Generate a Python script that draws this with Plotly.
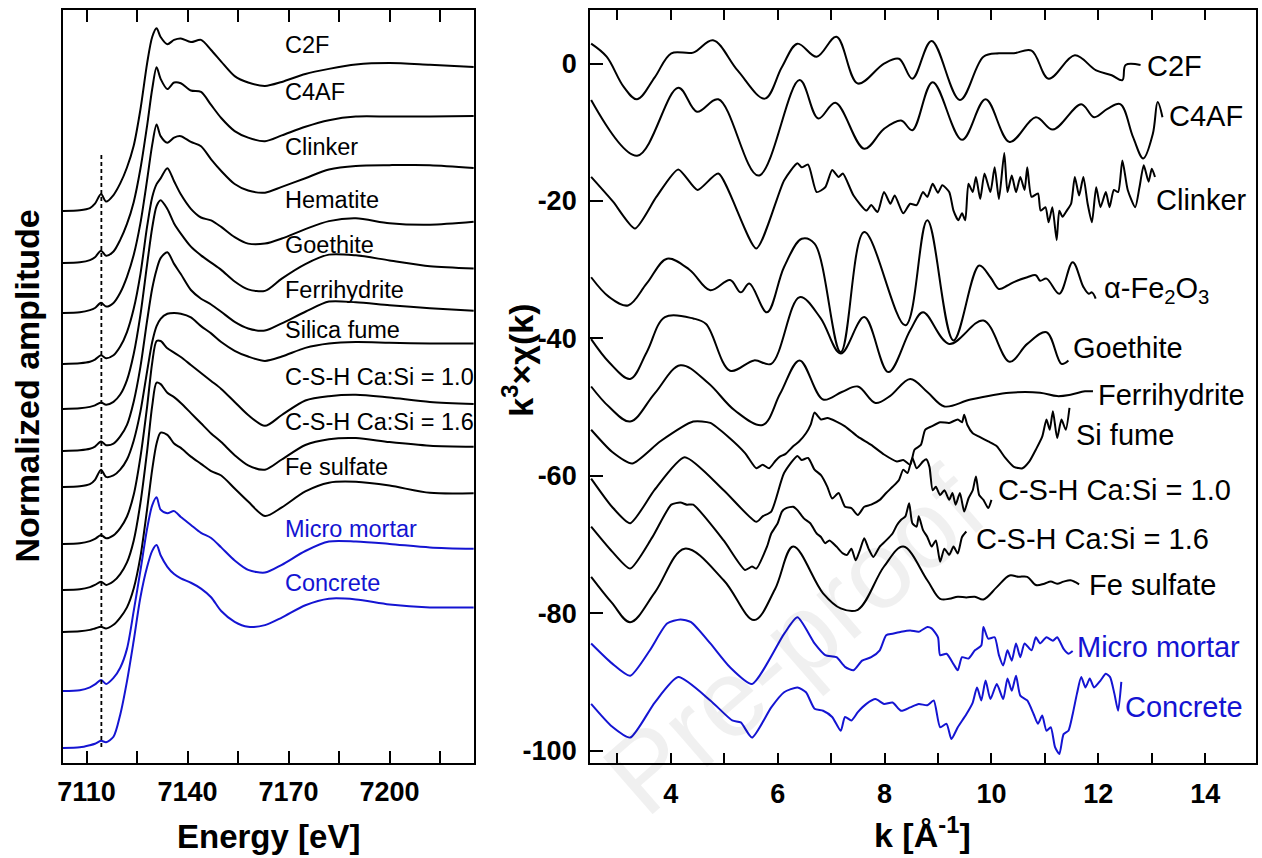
import plotly.graph_objects as go

FONT = "Liberation Sans, Arial, sans-serif"

# ---------------- Left panel: XANES (normalized amplitude vs energy) ----------------
energy_eV = [7103, 7108, 7111, 7112.5, 7114.3, 7115.8, 7118, 7120, 7122, 7124, 7126, 7128,
             7129.5, 7130.8, 7132, 7134, 7136, 7138, 7141, 7144, 7147, 7150, 7154, 7158,
             7163, 7168, 7175, 7182, 7190, 7200, 7212, 7225]

xanes_names = ["C2F", "C4AF", "Clinker", "Hematite", "Goethite", "Ferrihydrite", "Silica fume",
               "C-S-H Ca:Si = 1.0", "C-S-H Ca:Si = 1.6", "Fe sulfate", "Micro mortar", "Concrete"]

mu_C2F = [0, 0.005, 0.02, 0.05, 0.117, 0.065, 0.11, 0.19, 0.30, 0.45, 0.70, 1.02, 1.20, 1.26, 1.20, 1.15,
          1.18, 1.19, 1.165, 1.18, 1.11, 1.03, 0.93, 0.886, 0.862, 0.89, 0.945, 0.98, 1.01, 1.02, 1.008, 0.993]
mu_C4AF = [0, 0.005, 0.02, 0.04, 0.085, 0.05, 0.08, 0.16, 0.27, 0.42, 0.65, 0.95, 1.20, 1.35, 1.27, 1.20,
           1.245, 1.24, 1.19, 1.18, 1.09, 1.0, 0.91, 0.865, 0.84, 0.88, 0.94, 0.985, 1.01, 1.01, 1.01, 1.014]
mu_Clinker = [0, 0.005, 0.02, 0.035, 0.071, 0.045, 0.07, 0.14, 0.25, 0.40, 0.62, 0.92, 1.16, 1.30, 1.22, 1.175,
              1.21, 1.22, 1.18, 1.15, 1.06, 0.98, 0.89, 0.845, 0.83, 0.87, 0.93, 0.99, 1.015, 1.02, 1.02, 1.0]
mu_Hematite = [0, 0.005, 0.015, 0.03, 0.06, 0.04, 0.06, 0.12, 0.22, 0.38, 0.62, 0.95, 1.15, 1.24, 1.28, 1.35,
               1.26, 1.17, 1.07, 1.01, 0.99, 0.945, 0.875, 0.83, 0.83, 0.865, 0.93, 0.985, 1.005, 0.97, 0.96, 0.98]
mu_Goethite = [0, 0.005, 0.015, 0.025, 0.045, 0.03, 0.05, 0.10, 0.20, 0.38, 0.65, 1.0, 1.25, 1.40, 1.44, 1.38,
               1.28, 1.21, 1.12, 1.06, 1.01, 0.96, 0.88, 0.825, 0.815, 0.90, 1.0, 1.065, 1.06, 1.025, 0.985, 0.97]
mu_Ferrihydrite = [0, 0.005, 0.015, 0.03, 0.065, 0.04, 0.05, 0.10, 0.18, 0.34, 0.58, 0.90, 1.12, 1.25, 1.33, 1.37,
                   1.29, 1.22, 1.11, 1.05, 1.01, 0.96, 0.89, 0.845, 0.83, 0.88, 0.96, 1.03, 1.025, 1.005, 0.985, 0.967]
mu_SilicaFume = [0, 0.005, 0.02, 0.05, 0.12, 0.07, 0.08, 0.12, 0.19, 0.32, 0.52, 0.80, 1.00, 1.11, 1.16, 1.195,
                 1.20, 1.195, 1.17, 1.11, 1.06, 1.0, 0.94, 0.90, 0.87, 0.90, 0.96, 0.99, 1.0, 0.995, 0.99, 0.99]
mu_CSH10 = [0, 0.005, 0.02, 0.035, 0.062, 0.04, 0.06, 0.11, 0.19, 0.34, 0.60, 0.95, 1.25, 1.40, 1.40, 1.35,
            1.32, 1.29, 1.235, 1.18, 1.125, 1.07, 0.98, 0.89, 0.815, 0.89, 0.99, 1.02, 1.03, 1.01, 0.98, 0.966]
mu_CSH16 = [0, 0.005, 0.02, 0.035, 0.057, 0.035, 0.06, 0.11, 0.19, 0.34, 0.60, 0.96, 1.27, 1.43, 1.42, 1.36,
            1.33, 1.29, 1.22, 1.15, 1.08, 1.02, 0.93, 0.86, 0.83, 0.90, 1.0, 1.04, 1.048, 1.02, 0.995, 0.988]
mu_FeSulfate = [0, 0.005, 0.015, 0.025, 0.037, 0.025, 0.05, 0.10, 0.17, 0.30, 0.52, 0.85, 1.12, 1.30, 1.375, 1.36,
                1.30, 1.27, 1.21, 1.16, 1.11, 1.08, 0.99, 0.90, 0.80, 0.86, 0.97, 1.03, 1.036, 1.01, 0.96, 0.957]
mu_MicroMortar = [0, 0.005, 0.025, 0.045, 0.076, 0.048, 0.09, 0.16, 0.29, 0.55, 0.83, 1.12, 1.28, 1.335, 1.25, 1.225,
                  1.24, 1.2, 1.145, 1.09, 1.055, 0.99, 0.9, 0.835, 0.816, 0.87, 0.965, 1.03, 1.03, 1.014, 0.99, 0.98]
mu_Concrete = [0, 0.005, 0.02, 0.03, 0.05, 0.04, 0.078, 0.23, 0.46, 0.74, 1.04, 1.25, 1.36, 1.40, 1.33, 1.25,
               1.20, 1.17, 1.14, 1.10, 1.04, 0.945, 0.87, 0.836, 0.848, 0.90, 0.985, 1.03, 1.025, 0.99, 0.97, 0.97]

xanes_offsets = [3.807, 3.448, 3.103, 2.752, 2.441, 2.152, 1.903, 1.510, 1.193, 0.903, 0.497, 0.103]
xanes_label_y = [4.952, 4.628, 4.248, 3.883, 3.572, 3.262, 2.986, 2.662, 2.352, 2.041, 1.614, 1.241]
xanes_colors = ["black"] * 10 + ["#1414d2", "#1414d2"]
xanes_mu = [mu_C2F, mu_C4AF, mu_Clinker, mu_Hematite, mu_Goethite, mu_Ferrihydrite, mu_SilicaFume,
            mu_CSH10, mu_CSH16, mu_FeSulfate, mu_MicroMortar, mu_Concrete]

preedge_E = [7114.4, 7114.4]
preedge_y = [0.110, 4.193]

energy_ticks = [7110, 7125, 7140, 7155, 7170, 7185, 7200, 7215]
energy_ticktext = ["7110", " ", "7140", " ", "7170", " ", "7200", " "]

# ---------------- Right panel: EXAFS k^3 chi(k) ----------------
k_C2F = [2.51, 2.80, 3.12, 3.37, 3.70, 4.01, 4.42, 4.79, 5.25, 5.76, 6.08, 6.37, 6.73, 7.10, 7.50, 7.99,
         8.27, 8.52, 8.88, 9.41, 9.85, 10.14, 10.42, 10.75, 11.07, 11.56, 11.96, 12.25, 12.45, 12.51, 12.79]
chi_C2F = [2.9, 1.0, -3.4, -5.2, -2.0, 1.5, 1.6, 3.4, -1.0, -5.1, -0.5, 2.9, 1.0, 3.9, -2.9, 0.0,
           0.7, -2.2, 3.3, -5.3, 1.0, 1.5, 1.5, 1.9, -2.2, 1.2, -1.0, -1.7, -2.4, -0.2, -0.2]

k_C4AF = [2.51, 3.37, 4.14, 4.49, 4.89, 5.64, 6.41, 6.76, 7.08, 7.62, 7.99, 8.31, 8.52, 8.90, 9.45, 9.89,
          10.34, 10.83, 11.15, 11.68, 11.92, 12.17, 12.41, 12.65, 12.84, 13.02, 13.11, 13.20]
chi_C4AF = [-5.3, -13.4, -3.5, -7.0, -5.2, -16.3, -2.4, -8.0, -5.7, -12.4, -9.5, -8.3, -9.7, -2.7, -11.1, -5.2,
            -11.4, -7.8, -9.6, -5.9, -7.8, -6.6, -5.9, -10.7, -13.8, -10.2, -5.6, -7.8]

k_Clinker = [2.51, 2.92, 3.33, 3.73, 4.14, 4.50, 4.89, 5.60, 6.12, 6.37, 6.45, 6.57, 6.73, 6.89, 7.02, 7.14,
             7.22, 7.42, 7.66, 7.75, 7.87, 7.99, 8.11, 8.19, 8.35, 8.48, 8.60, 8.72, 8.80, 8.90, 9.00, 9.08,
             9.21, 9.29, 9.38, 9.45, 9.51, 9.57, 9.65, 9.71, 9.79, 9.87, 9.98, 10.06, 10.14, 10.24, 10.30,
             10.38, 10.46, 10.54, 10.62, 10.67, 10.75, 10.87, 10.92, 11.01, 11.07, 11.14, 11.22, 11.27, 11.33,
             11.41, 11.49, 11.56, 11.64, 11.72, 11.80, 11.88, 11.96, 12.04, 12.14, 12.21, 12.29, 12.37, 12.45,
             12.55, 12.69, 12.77, 12.85, 12.94, 13.00, 13.06]
chi_Clinker = [-16.5, -20.1, -24.0, -19.4, -15.4, -18.4, -16.0, -26.9, -17.0, -14.5, -15.1, -14.7, -18.7, -18.0,
               -15.5, -16.5, -16.0, -19.2, -21.4, -20.6, -21.6, -18.7, -20.4, -19.2, -21.8, -20.4, -20.6, -18.7,
               -19.4, -17.5, -18.8, -17.7, -18.7, -21.4, -22.8, -21.8, -22.8, -17.5, -18.7, -16.5, -19.7, -16.0,
               -18.7, -15.1, -19.7, -13.0, -18.7, -16.3, -18.7, -16.5, -18.4, -15.1, -19.4, -18.9, -21.4, -20.9,
               -23.1, -20.9, -25.7, -21.4, -22.3, -21.4, -20.4, -16.5, -19.2, -16.5, -20.4, -23.1, -18.0, -20.9,
               -18.7, -20.9, -18.4, -18.7, -14.1, -18.4, -20.9, -18.0, -14.8, -17.2, -15.3, -16.5]

k_Hematite = [2.51, 2.85, 3.20, 3.55, 3.93, 4.35, 4.74, 5.11, 5.31, 5.47, 5.80, 6.12, 6.45, 6.69, 7.18, 7.62,
              8.39, 8.80, 9.29, 9.77, 9.98, 10.14, 10.30, 10.42, 10.67, 10.83, 10.91, 11.03, 11.27, 11.52,
              11.72, 11.82, 11.88, 11.95]
chi_Hematite = [-31.1, -34.0, -35.2, -32.0, -28.4, -30.0, -33.0, -31.5, -33.3, -32.0, -36.2, -29.6, -25.5, -26.2,
                -42.0, -24.5, -38.1, -22.8, -40.3, -29.4, -31.1, -32.8, -32.3, -31.8, -31.1, -30.8, -31.6, -31.3,
                -33.5, -28.9, -32.5, -33.5, -33.3, -34.2]

k_Goethite = [2.51, 2.85, 3.24, 3.55, 3.89, 4.42, 4.66, 5.11, 5.56, 5.88, 6.41, 6.80, 7.18, 7.62, 8.07, 8.48,
              8.72, 9.21, 9.85, 10.34, 10.67, 11.03, 11.31, 11.44]
chi_Goethite = [-40.1, -43.5, -45.9, -42.0, -36.9, -37.1, -37.9, -44.7, -43.2, -43.7, -34.0, -37.0, -42.2, -36.9,
                -44.9, -38.8, -36.2, -40.8, -37.4, -43.4, -40.8, -39.1, -43.7, -43.2]

k_Ferrihydrite = [2.51, 2.85, 3.24, 3.70, 4.18, 4.70, 5.20, 5.72, 6.05, 6.41, 6.85, 7.20, 7.50, 7.83, 8.10, 8.48,
                  8.80, 9.12, 9.61, 10.34, 10.91, 11.23, 11.48, 11.75, 11.90]
chi_Ferrihydrite = [-47.0, -50.0, -52.1, -48.0, -43.9, -46.5, -50.5, -52.6, -48.0, -43.2, -48.9, -47.8, -47.0,
                    -49.4, -48.4, -45.9, -47.8, -49.9, -48.9, -47.9, -47.9, -48.4, -48.2, -47.7, -47.7]

k_SiFume = [2.51, 2.90, 3.28, 3.80, 4.42, 4.74, 5.10, 5.39, 5.60, 5.72, 5.84, 5.96, 6.04, 6.15, 6.29, 6.40, 6.53,
            6.62, 6.69, 6.81, 6.93, 7.10, 7.26, 7.50, 7.75, 7.99, 8.23, 8.35, 8.48, 8.56, 8.68, 8.76, 8.88, 9.04,
            9.21, 9.37, 9.45, 9.49, 9.55, 9.65, 9.77, 9.94, 10.10, 10.26, 10.42, 10.58, 10.71, 10.83, 10.95,
            11.03, 11.09, 11.15, 11.23, 11.31, 11.39, 11.46]
chi_SiFume = [-53.3, -56.5, -58.2, -55.0, -52.1, -52.3, -54.5, -56.7, -58.9, -58.4, -58.9, -57.8, -57.2, -56.8,
              -55.7, -55.0, -53.8, -52.5, -50.8, -51.8, -51.6, -52.1, -52.8, -54.3, -55.5, -56.9, -57.9, -57.7,
              -58.4, -56.2, -55.5, -53.3, -52.8, -52.2, -52.3, -51.8, -52.2, -51.1, -52.6, -53.8, -54.3, -55.0,
              -55.7, -57.4, -58.7, -58.9, -57.9, -56.2, -54.3, -51.8, -53.3, -50.6, -54.5, -51.8, -53.3, -50.1]

k_CSH10 = [2.51, 2.90, 3.24, 3.70, 4.26, 4.99, 5.60, 5.72, 5.88, 6.12, 6.37, 6.45, 6.57, 6.69, 6.81, 6.93, 7.02,
           7.14, 7.26, 7.38, 7.50, 7.62, 7.75, 7.91, 8.03, 8.15, 8.27, 8.35, 8.43, 8.52, 8.60, 8.72, 8.78, 8.84,
           8.90, 8.96, 9.04, 9.12, 9.21, 9.27, 9.33, 9.41, 9.49, 9.57, 9.65, 9.71, 9.77, 9.85, 9.94, 10.00]
chi_CSH10 = [-60.4, -64.5, -66.9, -62.0, -57.3, -62.1, -66.7, -65.9, -65.2, -59.6, -57.1, -57.7, -57.4, -59.1,
             -59.9, -61.6, -63.3, -62.5, -64.5, -64.7, -65.7, -64.5, -64.2, -63.5, -62.5, -61.6, -60.6, -59.1,
             -59.6, -57.4, -58.9, -57.9, -57.6, -58.7, -62.1, -61.6, -62.8, -62.1, -63.5, -62.5, -64.2, -62.5,
             -65.2, -63.3, -62.1, -60.1, -62.8, -63.5, -64.7, -63.5]

k_CSH16 = [2.51, 2.90, 3.24, 3.65, 4.01, 4.18, 4.30, 4.42, 4.99, 5.39, 5.52, 5.60, 5.80, 5.88, 6.00, 6.08, 6.16,
           6.29, 6.37, 6.49, 6.61, 6.73, 6.81, 6.89, 6.97, 7.10, 7.22, 7.30, 7.38, 7.46, 7.54, 7.62, 7.70, 7.79,
           7.91, 8.03, 8.15, 8.23, 8.31, 8.39, 8.46, 8.52, 8.60, 8.64, 8.72, 8.80, 8.88, 8.96, 9.04, 9.12, 9.21,
           9.29, 9.37, 9.45, 9.53]
chi_CSH16 = [-67.4, -71.0, -73.5, -69.0, -64.2, -63.9, -64.2, -64.2, -69.4, -73.7, -73.2, -73.5, -70.3, -68.4,
             -66.9, -65.2, -64.7, -64.5, -65.0, -66.2, -66.9, -68.4, -68.9, -69.8, -69.4, -70.3, -71.3, -71.5,
             -70.6, -72.3, -70.8, -69.1, -70.6, -71.8, -70.3, -69.4, -68.4, -67.2, -66.4, -65.9, -64.0, -66.9,
             -67.4, -65.9, -67.9, -68.9, -70.3, -69.4, -72.5, -70.6, -71.5, -70.3, -71.3, -68.9, -68.1]

k_FeSulfate = [2.51, 2.90, 3.24, 3.70, 4.26, 4.99, 5.56, 5.95, 6.29, 6.85, 7.18, 7.50, 7.99, 8.35, 8.80, 9.04,
               9.21, 9.37, 9.53, 9.69, 9.85, 10.10, 10.34, 10.50, 10.67, 10.83, 10.99, 11.11, 11.23, 11.35,
               11.48, 11.64]
chi_FeSulfate = [-74.7, -78.5, -81.3, -77.0, -70.6, -75.2, -81.0, -76.5, -70.3, -77.1, -79.3, -79.5, -73.2,
                 -70.3, -75.2, -77.9, -77.9, -77.6, -77.7, -77.6, -78.0, -76.2, -74.5, -74.7, -74.7, -75.9,
                 -75.7, -75.4, -75.7, -75.4, -75.2, -75.8]

k_MicroMortar = [2.51, 2.90, 3.24, 3.60, 3.93, 4.18, 4.38, 4.74, 5.10, 5.52, 6.12, 6.37, 6.69, 6.89, 7.10, 7.26,
                 7.42, 7.58, 7.75, 7.91, 8.03, 8.15, 8.31, 8.48, 8.64, 8.80, 8.88, 9.00, 9.04, 9.16, 9.29, 9.37,
                 9.45, 9.57, 9.69, 9.81, 9.85, 9.94, 10.06, 10.14, 10.22, 10.30, 10.38, 10.46, 10.54, 10.62,
                 10.75, 10.83, 10.91, 11.03, 11.15, 11.23, 11.35, 11.44, 11.52]
chi_MicroMortar = [-84.4, -87.3, -89.1, -85.5, -81.5, -80.9, -81.3, -84.4, -87.8, -90.3, -83.0, -80.6, -84.4,
                   -86.1, -86.4, -87.8, -88.3, -86.9, -86.4, -85.4, -83.2, -83.0, -82.7, -82.5, -82.7, -82.0,
                   -82.2, -83.5, -86.1, -85.9, -87.4, -88.3, -86.4, -86.6, -85.4, -84.7, -82.0, -83.7, -83.5,
                   -86.1, -87.6, -85.4, -86.9, -84.4, -86.4, -84.4, -85.4, -83.5, -84.4, -83.5, -84.0, -83.5,
                   -85.2, -85.9, -85.5]

k_Concrete = [2.51, 2.90, 3.24, 3.70, 4.14, 4.74, 5.15, 5.31, 5.52, 5.88, 6.12, 6.37, 6.53, 6.69, 6.85, 7.02,
              7.18, 7.26, 7.38, 7.50, 7.66, 7.83, 7.99, 8.15, 8.31, 8.48, 8.64, 8.80, 8.92, 9.04, 9.16, 9.25,
              9.37, 9.53, 9.65, 9.73, 9.81, 9.89, 9.98, 10.10, 10.22, 10.30, 10.38, 10.46, 10.54, 10.67, 10.79,
              10.87, 10.95, 11.03, 11.11, 11.19, 11.27, 11.35, 11.44, 11.52, 11.60, 11.68, 11.76, 11.84, 11.92,
              12.04, 12.14, 12.22, 12.30, 12.37, 12.43]
chi_Concrete = [-93.2, -96.5, -98.1, -93.0, -89.3, -92.7, -95.6, -95.9, -98.1, -93.7, -91.5, -90.8, -91.5,
                -93.9, -94.2, -95.1, -97.1, -95.1, -95.6, -94.4, -93.2, -92.5, -93.2, -93.0, -94.2, -93.7,
                -93.2, -93.4, -92.7, -96.6, -96.1, -98.3, -96.6, -94.7, -93.0, -90.8, -92.7, -89.8, -92.5,
                -90.3, -92.5, -89.5, -91.3, -89.1, -92.0, -92.7, -94.7, -96.1, -94.9, -97.1, -96.6, -99.5,
                -100.5, -97.6, -97.1, -94.7, -91.7, -89.3, -90.8, -89.5, -90.8, -89.8, -88.8, -89.3, -91.7,
                -94.2, -90.0]

exafs_names = ["C2F", "C4AF", "Clinker", "α-Fe<sub>2</sub>O<sub>3</sub>", "Goethite", "Ferrihydrite",
               "Si fume", "C-S-H Ca:Si = 1.0", "C-S-H Ca:Si = 1.6", "Fe sulfate", "Micro mortar", "Concrete"]
exafs_k = [k_C2F, k_C4AF, k_Clinker, k_Hematite, k_Goethite, k_Ferrihydrite, k_SiFume, k_CSH10, k_CSH16,
           k_FeSulfate, k_MicroMortar, k_Concrete]
exafs_chi = [chi_C2F, chi_C4AF, chi_Clinker, chi_Hematite, chi_Goethite, chi_Ferrihydrite, chi_SiFume,
             chi_CSH10, chi_CSH16, chi_FeSulfate, chi_MicroMortar, chi_Concrete]
exafs_smooth = [1.0, 1.0, 0.6, 1.0, 1.0, 1.0, 0.6, 0.6, 0.6, 1.0, 0.6, 0.6]
exafs_label_k = [12.88, 13.28, 13.04, 12.07, 11.49, 11.95, 11.55, 10.08, 9.68, 11.79, 11.56, 12.47]
exafs_label_chi = [-0.4, -7.7, -19.8, -32.9, -41.4, -48.2, -54.0, -62.0, -69.2, -75.9, -84.9, -93.7]
exafs_colors = ["black"] * 10 + ["#1414d2", "#1414d2"]

k_ticks = [3, 4, 5, 6, 7, 8, 9, 10, 11, 12, 13, 14]
k_ticktext = [" ", "4", " ", "6", " ", "8", " ", "10", " ", "12", " ", "14"]
chi_ticks = [0, -20, -40, -60, -80, -100]
chi_ticktext = ["0", "-20", "-40", "-60", "-80", "-100"]

# ---------------- Figure ----------------
fig = go.Figure()

for name, mu, off, col in zip(xanes_names, xanes_mu, xanes_offsets, xanes_colors):
    fig.add_trace(go.Scatter(x=energy_eV, y=[m + off for m in mu], mode="lines", name=name,
                             line=dict(color=col, width=2, shape="spline", smoothing=0.8),
                             xaxis="x", yaxis="y", showlegend=False))

fig.add_trace(go.Scatter(x=preedge_E, y=preedge_y, mode="lines",
                         line=dict(color="black", width=1.8, dash="4px,3px"),
                         xaxis="x", yaxis="y", showlegend=False))

for name, kk, cc, sm, col in zip(exafs_names, exafs_k, exafs_chi, exafs_smooth, exafs_colors):
    fig.add_trace(go.Scatter(x=kk, y=cc, mode="lines", name=name,
                             line=dict(color=col, width=2, shape="spline", smoothing=sm),
                             xaxis="x2", yaxis="y2", showlegend=False))

annotations = []
for name, y, col in zip(xanes_names, xanes_label_y, xanes_colors):
    annotations.append(dict(x=7168.3, y=y, xref="x", yref="y", text=name, showarrow=False,
                            xanchor="left", yanchor="middle", font=dict(family=FONT, size=23.5, color=col)))
for name, kx, cy, col in zip(exafs_names, exafs_label_k, exafs_label_chi, exafs_colors):
    annotations.append(dict(x=kx, y=cy, xref="x2", yref="y2", text=name, showarrow=False,
                            xanchor="left", yanchor="middle", font=dict(family=FONT, size=29, color=col)))

title_font = dict(family=FONT, size=34, color="black", weight="bold")
annotations += [
    dict(x=-0.031, y=0.5, xref="paper", yref="paper", text="Normalized amplitude", textangle=-90,
         showarrow=False, xanchor="center", yanchor="middle", font=title_font),
    dict(x=0.1724, y=-0.098, xref="paper", yref="paper", text="Energy [eV]",
         showarrow=False, xanchor="center", yanchor="middle", font=dict(family=FONT, size=33, color="black", weight="bold")),
    dict(x=0.381, y=0.535, xref="paper", yref="paper", text="k<sup>3</sup>×χ(k)", textangle=-90,
         showarrow=False, xanchor="center", yanchor="middle", font=title_font),
    dict(x=0.7205, y=-0.092, xref="paper", yref="paper", text="k [Å<sup>-1</sup>]",
         showarrow=False, xanchor="center", yanchor="middle", font=title_font),
    dict(x=0.6126, y=0.163, xref="paper", yref="paper", text="Pre-proof", textangle=-41,
         showarrow=False, xanchor="center", yanchor="middle",
         font=dict(family=FONT, size=110, color="rgba(0,0,0,0.06)")),
]

tick_font = dict(family=FONT, size=27, color="black", weight="bold")
axis_common = dict(showgrid=False, zeroline=False, showline=True, linecolor="black", linewidth=2)

fig.update_layout(
    width=1262, height=858,
    margin=dict(l=63, r=4, t=10, b=95),
    paper_bgcolor="white", plot_bgcolor="white",
    showlegend=False,
    xaxis=dict(domain=[0, 0.3448], range=[7103, 7225.2], tickvals=energy_ticks, ticktext=energy_ticktext,
               ticks="inside", ticklen=12, tickwidth=2, tickcolor="black", mirror="ticks",
               tickfont=tick_font, ticklabelstandoff=4, anchor="y", **axis_common),
    yaxis=dict(domain=[0, 1], range=[0, 5.193], showticklabels=False, ticks="", mirror=True,
               anchor="x", **axis_common),
    xaxis2=dict(domain=[0.4418, 1], range=[2.49, 14.95], tickvals=k_ticks, ticktext=k_ticktext,
                ticks="inside", ticklen=10, tickwidth=2, tickcolor="black", mirror="ticks",
                tickfont=tick_font, ticklabelstandoff=6, anchor="y2", **axis_common),
    yaxis2=dict(domain=[0, 1], range=[-101.8, 7.8], tickvals=chi_ticks, ticktext=chi_ticktext,
                ticks="inside", ticklen=13, tickwidth=2, tickcolor="black", mirror=True,
                tickfont=tick_font, ticklabelstandoff=6, anchor="x2", **axis_common),
    annotations=annotations,
)

fig.write_html("out.html", config={"displayModeBar": False},
               post_script="document.body.style.margin='0';document.body.style.overflow='hidden';")
